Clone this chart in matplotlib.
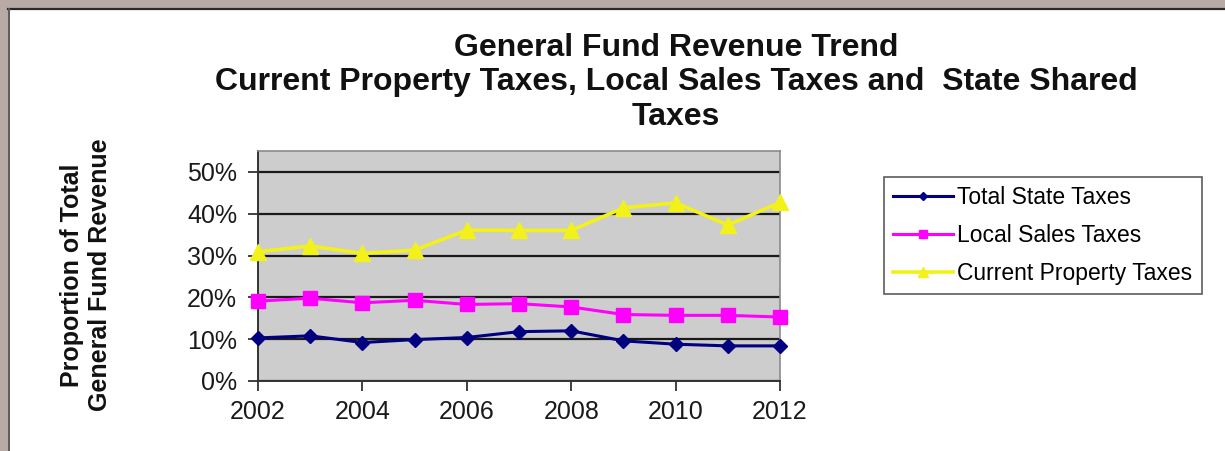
import matplotlib
matplotlib.use('Agg')
import matplotlib.pyplot as plt
from matplotlib.patches import Rectangle
from matplotlib.ticker import PercentFormatter

# Share of general fund revenue by source, 2002-2012
years = [2002, 2003, 2004, 2005, 2006, 2007, 2008, 2009, 2010, 2011, 2012]
state_taxes = [0.103, 0.108, 0.092, 0.099, 0.104, 0.118, 0.120, 0.096, 0.088, 0.084, 0.084]
sales_taxes = [0.191, 0.198, 0.187, 0.193, 0.183, 0.185, 0.177, 0.159, 0.157, 0.157, 0.153]
property_taxes = [0.309, 0.323, 0.305, 0.313, 0.361, 0.360, 0.360, 0.414, 0.426, 0.373, 0.427]

series_names = ['Total State Taxes', 'Local Sales Taxes', 'Current Property Taxes']
year_ticks = [2002, 2004, 2006, 2008, 2010, 2012]
pct_ticks = [0, 0.1, 0.2, 0.3, 0.4, 0.5]

plt.rcParams['font.family'] = ['Liberation Sans', 'DejaVu Sans']

W, H = 1225, 451
fig = plt.figure(figsize=(W / 100, H / 100), dpi=100)
fig.patch.set_facecolor('white')

# window frame along the top and left edges
frame_col = '#b8aba6'
fig.patches.append(Rectangle((0, 1 - 8 / H), 1, 8 / H, transform=fig.transFigure,
                             facecolor=frame_col, edgecolor='none', zorder=0))
fig.patches.append(Rectangle((0, 0), 8 / W, 1, transform=fig.transFigure,
                             facecolor=frame_col, edgecolor='none', zorder=0))
fig.add_artist(plt.Line2D([8 / W, 1], [1 - 9 / H, 1 - 9 / H], transform=fig.transFigure,
                          color='#2a2a2a', lw=1.6))
fig.add_artist(plt.Line2D([9 / W, 9 / W], [0, 1 - 9 / H], transform=fig.transFigure,
                          color='#5a5a5a', lw=1.4))

ax = fig.add_axes([258 / W, (H - 381) / H, (780 - 258) / W, (381 - 151) / H])
ax.set_facecolor('#cdcdcd')

ax.plot(years, state_taxes, color='#000080', lw=2.2, marker='D', ms=7,
        label=series_names[0], zorder=3, clip_on=False)
ax.plot(years, sales_taxes, color='#ff00ff', lw=2.2, marker='s', ms=10,
        label=series_names[1], zorder=3, clip_on=False)
ax.plot(years, property_taxes, color='#f2f21a', lw=2.6, marker='^', ms=11,
        label=series_names[2], zorder=3, clip_on=False)

ax.set_xlim(2002, 2012)
ax.set_ylim(0, 0.55)
ax.set_xticks(year_ticks)
ax.set_yticks(pct_ticks)
ax.yaxis.set_major_formatter(PercentFormatter(1.0, decimals=0))
ax.grid(axis='y', color='#1a1a1a', lw=1.6)
ax.set_axisbelow(True)

for side in ['top', 'right']:
    ax.spines[side].set_color('#8a8a8a')
    ax.spines[side].set_linewidth(1.2)
for side in ['left', 'bottom']:
    ax.spines[side].set_color('#333333')
    ax.spines[side].set_linewidth(1.4)

ax.tick_params(axis='both', direction='out', length=7, width=1.3, color='#333333',
               labelsize=18, labelcolor='#1a1a1a')
ax.tick_params(axis='x', pad=7)
ax.tick_params(axis='y', pad=8)

fig.text(0.552, 1 - 33 / H,
         'General Fund Revenue Trend\nCurrent Property Taxes, Local Sales Taxes and  State Shared\nTaxes',
         ha='center', va='top', fontsize=23, fontweight='bold', linespacing=1.19,
         color='#111111')

fig.text(86 / W, 1 - 275 / H, 'Proportion of Total\nGeneral Fund Revenue',
         rotation=90, ha='center', va='center', fontsize=18, fontweight='bold',
         linespacing=1.2, multialignment='center', color='#111111')

leg = fig.legend(loc='upper left', bbox_to_anchor=(884 / W, 1 - 177 / H),
                 bbox_transform=fig.transFigure, fontsize=16.5, frameon=True,
                 fancybox=False, edgecolor='#333333', borderpad=0.4,
                 borderaxespad=0, labelspacing=0.65, handlelength=2.6,
                 handletextpad=0.2, markerscale=0.6)
leg.get_frame().set_linewidth(1.2)

fig.savefig('out.png', dpi=100)
